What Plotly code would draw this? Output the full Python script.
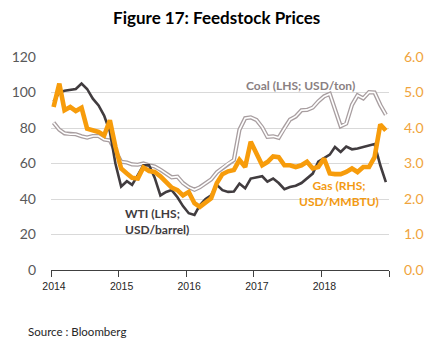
import pandas as pd
import plotly.graph_objects as go

# Monthly observations, Jan 2014 - Dec 2018 (plotted mid-month)
months = pd.date_range("2014-01-01", periods=60, freq="MS") + pd.Timedelta(days=14)

wti = [95, 100, 101, 101.5, 102, 105, 102, 96.5, 92.7, 87, 78, 60,
       47, 50, 48, 53.5, 59, 59, 52, 42, 44, 45, 41, 36,
       32, 31, 36.5, 40, 42, 48, 45, 44, 44.2, 48.7, 46, 51.5,
       52, 52.8, 49.8, 51.5, 49, 45.5, 46.7, 47.5, 49, 51.5, 54.3, 61,
       62.8, 65, 69.3, 66.5, 69.5, 68, 68.5, 69.3, 70.3, 71, 59, 49.5]

coal = [83, 79, 77, 76.5, 76.5, 75.3, 74.6, 75.5, 75.5, 73.5, 73, 67,
        61, 60.6, 59.5, 59.3, 60, 59, 58.3, 56.5, 54.3, 52.2, 52.6, 49,
        46.7, 45.2, 46.6, 48.6, 51, 55, 57.5, 60, 62, 79, 85.5, 86,
        84.5, 80.4, 75, 75.3, 74.5, 80, 84.7, 86.5, 90, 90.2, 91.5, 95,
        97.8, 99.2, 90, 81, 82.5, 93, 98.4, 96.7, 100.2, 100, 93, 87.5]

gas = [4.59, 5.25, 4.50, 4.59, 4.48, 4.57, 3.98, 3.93, 3.89, 3.79, 4.22, 3.47,
       2.86, 2.72, 2.60, 2.58, 2.89, 2.79, 2.76, 2.64, 2.46, 2.32, 2.25, 2.10,
       2.20, 1.88, 1.78, 1.92, 2.02, 2.45, 2.70, 2.78, 2.82, 3.10, 2.90, 3.61,
       3.30, 2.95, 3.04, 3.20, 3.18, 2.95, 2.95, 2.90, 2.95, 3.05, 2.86, 2.90,
       3.14, 2.72, 2.70, 2.70, 2.76, 2.86, 2.76, 2.90, 2.90, 3.18, 4.10, 3.93]

year_ticks = ["2014-01-01", "2015-01-01", "2016-01-01", "2017-01-01",
              "2018-01-01", "2019-01-01"]
year_labels = ["2014", "2015", "2016", "2017", "2018", ""]

left_ticks = [0, 20, 40, 60, 80, 100, 120]
right_ticks = [0, 1, 2, 3, 4, 5, 6]

COAL_EDGE = "#a89ea0"
WTI_COLOR = "#413c3f"
GAS_COLOR = "#f79c0b"
RIGHT_LABEL = "#f0a43c"

fig = go.Figure()

# Coal: drawn as an outlined (double) line
fig.add_trace(go.Scatter(x=months, y=coal, mode="lines",
                         line=dict(color=COAL_EDGE, width=4.2),
                         hoverinfo="skip", showlegend=False))
fig.add_trace(go.Scatter(x=months, y=coal, mode="lines",
                         line=dict(color="white", width=1.6),
                         name="Coal", showlegend=False))
fig.add_trace(go.Scatter(x=months, y=wti, mode="lines",
                         line=dict(color=WTI_COLOR, width=2.6),
                         name="WTI", showlegend=False))
fig.add_trace(go.Scatter(x=months, y=gas, mode="lines", yaxis="y2",
                         line=dict(color=GAS_COLOR, width=4.6),
                         name="Gas", showlegend=False))

fig.update_layout(
    width=436, height=340,
    margin=dict(l=43, r=40, t=57, b=70),
    paper_bgcolor="white", plot_bgcolor="white",
    title=dict(text="<b>Figure 17: Feedstock Prices</b>",
               x=0.497, xref="container", xanchor="center",
               y=1 - 18 / 340, yref="container", yanchor="middle",
               font=dict(family="Lato", size=17, color="#000000")),
    xaxis=dict(type="date", range=["2014-01-01", "2019-01-01"],
               tickvals=year_ticks, ticktext=year_labels,
               ticks="outside", ticklen=6, tickcolor="#404040", tickwidth=1,
               ticklabelshift=3,
               showgrid=False, zeroline=False,
               showline=True, linecolor="#404040", linewidth=1,
               tickfont=dict(family="Liberation Sans", size=10.5, color="#262626")),
    yaxis=dict(range=[0, 120], tickvals=left_ticks,
               showgrid=True, gridcolor="#d9d9d9", gridwidth=1,
               zeroline=False, showline=False, ticks="",
               ticklabelstandoff=14,
               tickfont=dict(family="Lato", size=14, color="#595959")),
    yaxis2=dict(range=[0, 6], tickvals=right_ticks, tickformat=".1f",
                overlaying="y", side="right",
                showgrid=False, zeroline=False, showline=False, ticks="",
                ticklabelstandoff=14,
                tickfont=dict(family="Lato", size=14, color=RIGHT_LABEL)),
    annotations=[
        dict(text="<b>Coal (LHS; USD/ton)</b>", xref="paper", yref="paper",
             x=0.739, y=0.864, xanchor="center", yanchor="middle",
             showarrow=False, font=dict(family="Lato", size=12, color="#8a7f82")),
        dict(text="<b>WTI (LHS;<br>USD/barrel)</b>", xref="paper", yref="paper",
             x=0.2118, y=0.230, xanchor="left", yanchor="middle", align="left",
             showarrow=False, font=dict(family="Lato", size=12, color="#403b3e")),
        dict(text="<b>Gas (RHS;<br>USD/MMBTU)</b>", xref="paper", yref="paper",
             x=0.8526, y=0.358, xanchor="center", yanchor="middle", align="center",
             showarrow=False, font=dict(family="Lato", size=12, color="#f39a12")),
        dict(text="Source : Bloomberg", xref="paper", yref="paper",
             x=(16.5 - 43) / 353, y=-(331 - 270) / 213,
             xanchor="left", yanchor="middle", showarrow=False,
             font=dict(family="Lato", size=11.5, color="#262626")),
    ],
)

fig.write_html("out.html")
